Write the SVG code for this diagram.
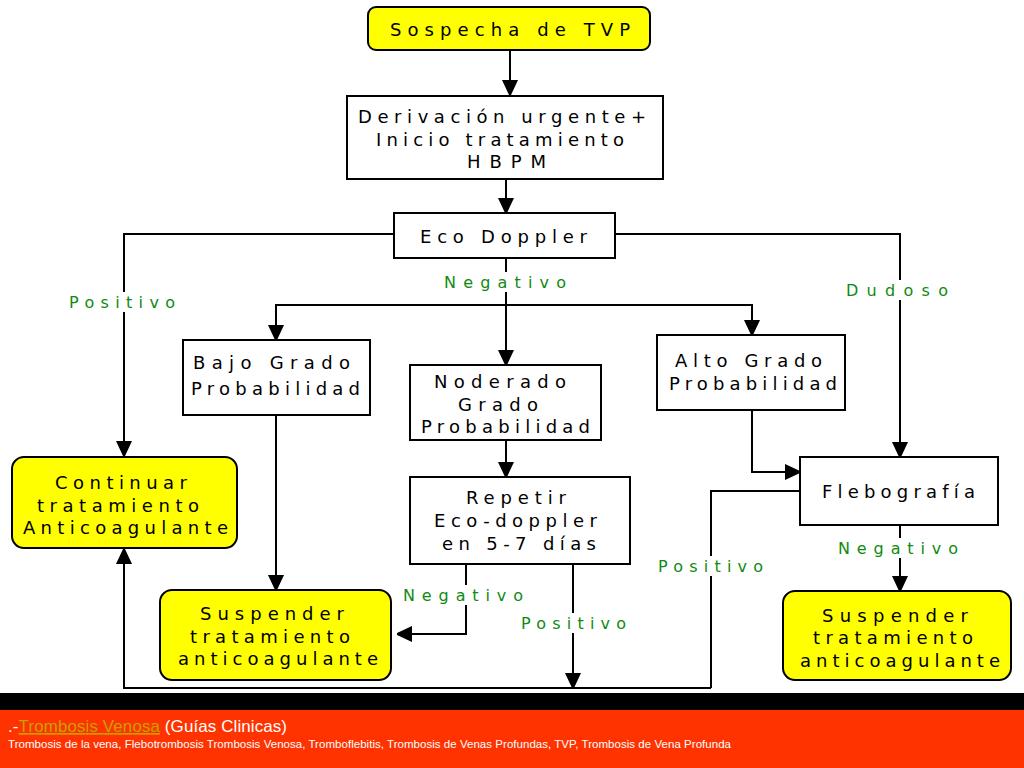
<svg xmlns="http://www.w3.org/2000/svg" width="1024" height="768" viewBox="0 0 1024 768">
<style>
.box{fill:#fff;stroke:#000;stroke-width:2}
.ybox{fill:#ffff00;stroke:#000;stroke-width:2}
.t{font-family:"DejaVu Sans",sans-serif;font-size:18px;fill:#000}
.lbl{font-family:"DejaVu Sans",sans-serif;font-size:16px;fill:#108a10}
.ln{fill:none;stroke:#000;stroke-width:2}
.ftr{font-family:"Liberation Sans",Arial,sans-serif;fill:#fff}
</style>
<defs>
<marker id="ah" viewBox="0 0 15 16" refX="15" refY="8" markerWidth="15" markerHeight="16" markerUnits="userSpaceOnUse" orient="auto">
<path d="M0,0 L15,7 L15,9 L0,16 Z" fill="#000"/>
</marker>
</defs>
<rect width="1024" height="768" fill="#fff"/>

<g id="connectors">
<path class="ln" d="M510,50 V95" marker-end="url(#ah)"/>
<path class="ln" d="M506,179 V213" marker-end="url(#ah)"/>
<path class="ln" d="M394,234 H124 V456" marker-end="url(#ah)"/>
<path class="ln" d="M615,234 H900 V457" marker-end="url(#ah)"/>
<path class="ln" d="M506,258 V365" marker-end="url(#ah)"/>
<path class="ln" d="M506,305 H276 V340" marker-end="url(#ah)"/>
<path class="ln" d="M506,305 H752 V335" marker-end="url(#ah)"/>
<path class="ln" d="M276,415 V590" marker-end="url(#ah)"/>
<path class="ln" d="M506,440 V477" marker-end="url(#ah)"/>
<path class="ln" d="M466,564 V634 H397" marker-end="url(#ah)"/>
<path class="ln" d="M573,564 V688" marker-end="url(#ah)"/>
<path class="ln" d="M711,688 H124 V549" marker-end="url(#ah)"/>
<path class="ln" d="M711,688 V491 H800"/>
<path class="ln" d="M752,410 V472 H800" marker-end="url(#ah)"/>
<path class="ln" d="M900,525 V591" marker-end="url(#ah)"/>
</g>

<g id="labels">
<rect x="66" y="292" width="112" height="20" fill="#fff"/>
<text class="lbl" x="69" y="308" textLength="106" lengthAdjust="spacing">Positivo</text>
<rect x="441" y="272" width="128" height="20" fill="#fff"/>
<text class="lbl" x="444" y="288" textLength="122" lengthAdjust="spacing">Negativo</text>
<rect x="843" y="280" width="108" height="20" fill="#fff"/>
<text class="lbl" x="846" y="296" textLength="102" lengthAdjust="spacing">Dudoso</text>
<rect x="655" y="556" width="111" height="20" fill="#fff"/>
<text class="lbl" x="658" y="572" textLength="105" lengthAdjust="spacing">Positivo</text>
<rect x="400" y="585" width="126" height="20" fill="#fff"/>
<text class="lbl" x="403" y="601" textLength="120" lengthAdjust="spacing">Negativo</text>
<rect x="518" y="613" width="111" height="20" fill="#fff"/>
<text class="lbl" x="521" y="629" textLength="105" lengthAdjust="spacing">Positivo</text>
<rect x="835" y="538" width="126" height="20" fill="#fff"/>
<text class="lbl" x="838" y="554" textLength="120" lengthAdjust="spacing">Negativo</text>
</g>

<g id="n-sospecha">
<rect class="ybox" x="368" y="7" width="282" height="43" rx="8"/>
<text class="t" x="390" y="36" textLength="240" lengthAdjust="spacing">Sospecha de TVP</text>
</g>
<g id="n-derivacion">
<rect class="box" x="347" y="96" width="316" height="83"/>
<text class="t" x="358" y="123" textLength="288" lengthAdjust="spacing">Derivación urgente+</text>
<text class="t" x="376" y="146" textLength="248" lengthAdjust="spacing">Inicio tratamiento</text>
<text class="t" x="467" y="168" textLength="79" lengthAdjust="spacing">HBPM</text>
</g>
<g id="n-eco">
<rect class="box" x="394" y="213" width="221" height="45"/>
<text class="t" x="420" y="243" textLength="167" lengthAdjust="spacing">Eco Doppler</text>
</g>
<g id="n-bajo">
<rect class="box" x="183" y="340" width="187" height="75"/>
<text class="t" x="193" y="369" textLength="157" lengthAdjust="spacing">Bajo Grado</text>
<text class="t" x="191" y="395" textLength="169" lengthAdjust="spacing">Probabilidad</text>
</g>
<g id="n-moderado">
<rect class="box" x="410" y="365" width="191" height="75"/>
<text class="t" x="434" y="388" textLength="132" lengthAdjust="spacing">Noderado</text>
<text class="t" x="458" y="411" textLength="80" lengthAdjust="spacing">Grado</text>
<text class="t" x="421" y="433" textLength="169" lengthAdjust="spacing">Probabilidad</text>
</g>
<g id="n-alto">
<rect class="box" x="657" y="335" width="188" height="75"/>
<text class="t" x="675" y="367" textLength="147" lengthAdjust="spacing">Alto Grado</text>
<text class="t" x="669" y="390" textLength="168" lengthAdjust="spacing">Probabilidad</text>
</g>
<g id="n-continuar">
<rect class="ybox" x="12" y="457" width="225" height="91" rx="12"/>
<text class="t" x="55" y="489" textLength="132" lengthAdjust="spacing">Continuar</text>
<text class="t" x="37" y="512" textLength="162" lengthAdjust="spacing">tratamiento</text>
<text class="t" x="23" y="534" textLength="205" lengthAdjust="spacing">Anticoagulante</text>
</g>
<g id="n-repetir">
<rect class="box" x="410" y="477" width="220" height="87"/>
<text class="t" x="466" y="504" textLength="100" lengthAdjust="spacing">Repetir</text>
<text class="t" x="434" y="527" textLength="163" lengthAdjust="spacing">Eco-doppler</text>
<text class="t" x="442" y="550" textLength="154" lengthAdjust="spacing">en 5-7 días</text>
</g>
<g id="n-flebografia">
<rect class="box" x="800" y="457" width="198" height="68"/>
<text class="t" x="822" y="498" textLength="153" lengthAdjust="spacing">Flebografía</text>
</g>
<g id="n-suspender-1">
<rect class="ybox" x="160" y="590" width="231" height="90" rx="12"/>
<text class="t" x="200" y="620" textLength="144" lengthAdjust="spacing">Suspender</text>
<text class="t" x="190" y="643" textLength="160" lengthAdjust="spacing">tratamiento</text>
<text class="t" x="178" y="665" textLength="200" lengthAdjust="spacing">anticoagulante</text>
</g>
<g id="n-suspender-2">
<rect class="ybox" x="783" y="591" width="228" height="89" rx="12"/>
<text class="t" x="822" y="622" textLength="146" lengthAdjust="spacing">Suspender</text>
<text class="t" x="813" y="644" textLength="160" lengthAdjust="spacing">tratamiento</text>
<text class="t" x="800" y="667" textLength="200" lengthAdjust="spacing">anticoagulante</text>
</g>

<g id="footer">
<rect x="0" y="693" width="1024" height="17" fill="#000"/>
<rect x="0" y="710" width="1024" height="58" fill="#ff3300"/>
<text class="ftr" x="8" y="732" font-size="17" textLength="279">.-<tspan fill="#c8a000" text-decoration="underline">Trombosis Venosa</tspan> (Guías Clinicas)</text>
<text class="ftr" x="8" y="748" font-size="11.5" textLength="723">Trombosis de la vena, Flebotrombosis Trombosis Venosa, Tromboflebitis, Trombosis de Venas Profundas, TVP, Trombosis de Vena Profunda</text>
</g>
</svg>
